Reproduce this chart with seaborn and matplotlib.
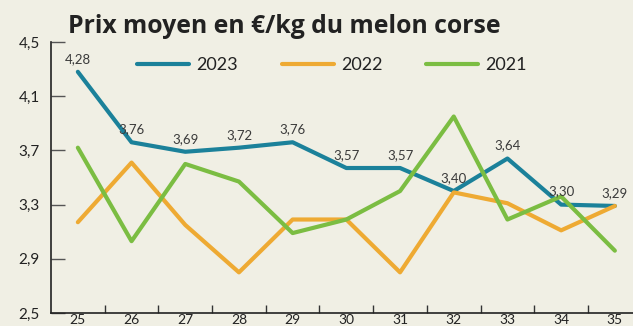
import matplotlib
matplotlib.use("Agg")
import matplotlib.pyplot as plt
import seaborn as sns
import pandas as pd

weeks = [25, 26, 27, 28, 29, 30, 31, 32, 33, 34, 35]
prix_2023 = [4.28, 3.76, 3.69, 3.72, 3.76, 3.57, 3.57, 3.40, 3.64, 3.30, 3.29]
prix_2022 = [3.17, 3.61, 3.15, 2.80, 3.19, 3.19, 2.80, 3.39, 3.31, 3.11, 3.29]
prix_2021 = [3.72, 3.03, 3.60, 3.47, 3.09, 3.19, 3.40, 3.95, 3.19, 3.36, 2.96]
years = ["2023", "2022", "2021"]
y_ticks = [2.5, 2.9, 3.3, 3.7, 4.1, 4.5]
title = "Prix moyen en €/kg du melon corse"

bg = "#f0efe4"
palette = {"2023": "#1b819a", "2022": "#eeaa33", "2021": "#7bbd42"}

df = pd.concat([
    pd.DataFrame({"semaine": weeks, "prix": vals, "annee": yr})
    for yr, vals in zip(years, [prix_2023, prix_2022, prix_2021])
])

sns.set_theme(style="white")
plt.rcParams["font.family"] = ["Lato", "DejaVu Sans"]

fig = plt.figure(figsize=(6.33, 3.26), dpi=100, facecolor=bg)
ax = fig.add_axes([51 / 633, 13 / 326, 590.7 / 633, 271 / 326])
ax.set_facecolor(bg)

sns.lineplot(data=df, x="semaine", y="prix", hue="annee", hue_order=years,
             palette=palette, linewidth=3.0, sort=False, ax=ax)

# value labels on the 2023 series
for w, v in zip(weeks, prix_2023):
    ax.annotate(f"{v:.2f}".replace(".", ","), (w, v), xytext=(0, 5),
                textcoords="offset points", ha="center", va="bottom",
                fontsize=9.5, color="#3a3a3a",
                family=["Liberation Sans Narrow", "Lato", "DejaVu Sans"])

ax.set_xlim(24.5, 35.5)
ax.set_ylim(2.5, 4.5)
ax.set_xlabel("")
ax.set_ylabel("")
ax.set_yticks(y_ticks)
ax.set_yticklabels([f"{t:.1f}".replace(".", ",") for t in y_ticks],
                   fontsize=11, color="#222222")
ax.tick_params(axis="y", direction="in", length=10, width=1, color="#555555",
               pad=8, left=True)
ax.set_xticks(weeks)
ax.set_xticklabels([str(w) for w in weeks], fontsize=10, color="#222222")
ax.tick_params(axis="x", which="major", length=0, pad=1)
ax.set_xticks([w + 0.5 for w in weeks[:-1]], minor=True)
ax.tick_params(axis="x", which="minor", direction="in", length=6, width=1,
               color="#333333", bottom=True)

for side in ["top", "right"]:
    ax.spines[side].set_visible(False)
for side in ["left", "bottom"]:
    ax.spines[side].set_color("#222222")
    ax.spines[side].set_linewidth(1.2)

leg = ax.legend(ncol=3, frameon=False, fontsize=13, handlelength=2.9,
                handletextpad=0.4, columnspacing=2.4, borderpad=0,
                borderaxespad=0, loc="center left",
                bbox_to_anchor=(137 / 633, (326 - 65) / 326),
                bbox_transform=fig.transFigure)
for t in leg.get_texts():
    t.set_color("#222222")

fig.text(68 / 633, (326 - 33) / 326, title, fontsize=17.8, fontweight="bold",
         family=["Open Sans", "DejaVu Sans"],
         color="#222222", va="baseline", ha="left")

fig.savefig("out.png", dpi=100, facecolor=bg)
